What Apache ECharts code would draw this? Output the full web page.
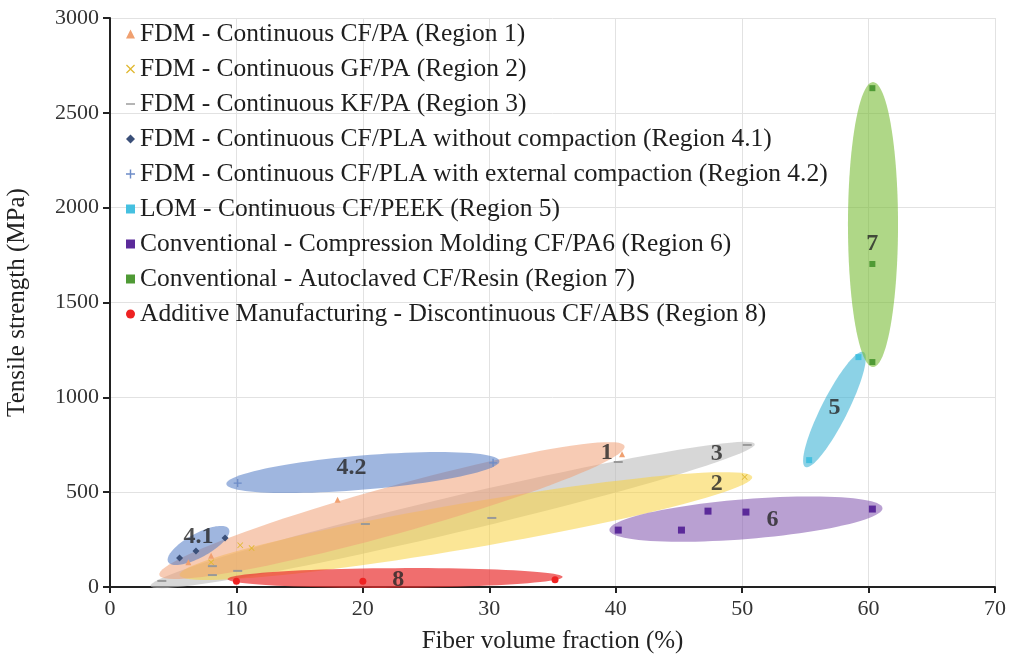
<!DOCTYPE html>
<html><head><meta charset="utf-8">
<script src="https://cdn.jsdelivr.net/npm/echarts@6/dist/echarts.min.js"></script>
<style>html,body{margin:0;padding:0;background:#fff}#c{width:1015px;height:659px}</style>
</head><body><div id="c"></div><script>
// ---- data ----
const xTicks = [0, 10, 20, 30, 40, 50, 60, 70];
const yTicks = [0, 500, 1000, 1500, 2000, 2500, 3000];
const seriesNames = [
  'FDM - Continuous CF/PA (Region 1)',
  'FDM - Continuous GF/PA (Region 2)',
  'FDM - Continuous KF/PA (Region 3)',
  'FDM - Continuous CF/PLA without compaction (Region 4.1)',
  'FDM - Continuous CF/PLA with external compaction (Region 4.2)',
  'LOM - Continuous CF/PEEK (Region 5)',
  'Conventional - Compression Molding CF/PA6 (Region 6)',
  'Conventional - Autoclaved CF/Resin (Region 7)',
  'Additive Manufacturing - Discontinuous CF/ABS (Region 8)'
];
const region1 = [[6.2, 131], [8, 165], [18, 460], [40.5, 700]];
const region2 = [[8, 130], [10.3, 220], [11.2, 205], [50.2, 580]];
const region3 = [[4.1, 32], [8.1, 63], [8.1, 110], [10.1, 85], [20.2, 332], [30.2, 364], [40.2, 659], [50.4, 749]];
const region41 = [[5.5, 153], [6.8, 190], [9.1, 258]];
const region42 = [[10.1, 548], [30.3, 655]];
const region5 = [[55.3, 669], [59.2, 1212]];
const region6 = [[40.2, 300], [45.2, 300], [47.3, 400], [50.3, 395], [60.3, 411]];
const region7 = [[60.3, 2630], [60.3, 1703], [60.3, 1186]];
const region8 = [[10, 30], [20, 30], [35.2, 38]];
// region envelopes: major-axis end points (x1,y1,x2,y2) and half width (MPa)
const envelopeNames = ['3', '2', '1', '4.2', '4.1', '5', '6', '7', '8'];
const envelopes = [
  [3.2, 5, 51.0, 754, 95],
  [5.5, 63, 50.8, 580, 120],
  [3.9, 63, 40.7, 743, 125],
  [9.2, 543, 30.8, 664, 90],
  [4.6, 132, 9.4, 306, 63],
  [55.0, 633, 59.6, 1239, 69],
  [39.5, 300, 61.1, 416, 105],
  [60.35, 2662, 60.35, 1160, 132],
  [9.3, 42, 35.8, 53, 52]
];
const labelNames = ['1', '2', '3', '4.1', '4.2', '5', '6', '7', '8'];
const labelPos = [[39.3, 706], [48, 543], [48, 701], [7.0, 264], [19.1, 627], [57.3, 944], [52.4, 353], [60.3, 1808], [22.8, 37]];

// ---- styles ----
const envColors = {
  '3': 'rgba(188,188,188,0.6)', '2': 'rgba(247,210,63,0.55)', '1': 'rgba(240,160,118,0.55)',
  '4.2': 'rgba(80,122,197,0.55)', '4.1': 'rgba(80,122,197,0.55)', '5': 'rgba(63,180,213,0.6)',
  '6': 'rgba(138,97,180,0.6)', '7': 'rgba(122,188,55,0.6)', '8': 'rgba(234,48,48,0.7)'
};
const xPath = 'path://M0,1 L1,0 L5,4 L9,0 L10,1 L6,5 L10,9 L9,10 L5,6 L1,10 L0,9 L4,5 Z';
const plusPath = 'path://M4.2,0 H5.8 V4.2 H10 V5.8 H5.8 V10 H4.2 V5.8 H0 V4.2 H4.2 Z';
const dashPath = 'path://M0,4.2 H10 V5.8 H0 Z';
const markerDefs = [
  {data: region1, symbol: 'triangle', icon: 'triangle', size: 6, color: '#f0a070'},
  {data: region2, symbol: xPath, icon: xPath, size: 6, color: '#e0b830'},
  {data: region3, symbol: 'rect', icon: dashPath, size: [9, 2], color: '#999999'},
  {data: region41, symbol: 'diamond', icon: 'diamond', size: 7, color: '#3a4f78'},
  {data: region42, symbol: plusPath, icon: plusPath, size: 8, color: '#6d8cc8'},
  {data: region5, symbol: 'rect', icon: 'rect', size: 6, color: '#45c0e0'},
  {data: region6, symbol: 'rect', icon: 'rect', size: 7, color: '#5b2a9a'},
  {data: region7, symbol: 'rect', icon: 'rect', size: 6, color: '#4f9a35'},
  {data: region8, symbol: 'circle', icon: 'circle', size: 7, color: '#ee2222'}
];

function renderEnvelope(params, api) {
  const p1 = api.coord([api.value(0), api.value(1)]);
  const p2 = api.coord([api.value(2), api.value(3)]);
  const b = api.size([0, api.value(4)])[1];
  const cx = (p1[0] + p2[0]) / 2, cy = (p1[1] + p2[1]) / 2;
  const dx = p2[0] - p1[0], dy = p2[1] - p1[1];
  const a = Math.hypot(dx, dy) / 2, ang = Math.atan2(dy, dx);
  const pts = [];
  for (let i = 0; i < 96; i++) {
    const t = i / 96 * 2 * Math.PI;
    const ex = a * Math.cos(t), ey = b * Math.sin(t);
    pts.push([cx + ex * Math.cos(ang) - ey * Math.sin(ang), cy + ex * Math.sin(ang) + ey * Math.cos(ang)]);
  }
  return {type: 'polygon', shape: {points: pts}, style: {fill: envColors[envelopeNames[params.dataIndex]]}};
}

const font = '"Liberation Serif", "Times New Roman", serif';
const series = [{
  type: 'custom', name: 'envelopes', z: 1, silent: true,
  renderItem: renderEnvelope,
  encode: {x: [0, 2], y: [1, 3]},
  data: envelopes
}];
markerDefs.forEach((m, i) => {
  series.push({
    type: 'scatter', name: seriesNames[i], z: 3,
    symbol: m.symbol, symbolSize: m.size,
    itemStyle: {color: m.color, opacity: 1},
    data: m.data
  });
});
series.push({
  type: 'scatter', name: 'labels', z: 5, symbolSize: 0, silent: true,
  data: labelPos.map((p, i) => ({value: p, name: labelNames[i]})),
  label: {
    show: true, position: 'inside', formatter: p => p.name,
    fontFamily: font, fontWeight: 'bold', fontSize: 24, color: '#262626'
  }
});

const chart = echarts.init(document.getElementById('c'), null, {renderer: 'canvas'});
chart.setOption({
  animation: false,
  backgroundColor: '#fff',
  grid: {left: 110, right: 20, top: 18, bottom: 72, containLabel: false, outerBoundsMode: 'none'},
  legend: {
    orient: 'vertical', left: 121, top: 16, itemGap: 9,
    itemWidth: 9, itemHeight: 9,
    data: seriesNames.map((n, i) => ({name: n, icon: markerDefs[i].icon})),
    textStyle: {fontFamily: font, fontSize: 25.5, color: '#1e1e1e', lineHeight: 25}
  },
  xAxis: {
    type: 'value', min: xTicks[0], max: xTicks[xTicks.length - 1], interval: 10,
    name: 'Fiber volume fraction (%)', nameLocation: 'middle', nameGap: 42,
    nameTextStyle: {fontFamily: font, fontSize: 25, color: '#222'},
    axisLine: {show: true, onZero: false, lineStyle: {color: '#222', width: 2}},
    axisTick: {show: true, inside: false, length: 6, lineStyle: {color: '#222', width: 2}},
    axisLabel: {fontFamily: font, fontSize: 22, color: '#333', margin: 11},
    splitLine: {show: true, lineStyle: {color: '#e2e2e2', width: 1}}
  },
  yAxis: {
    type: 'value', min: yTicks[0], max: yTicks[yTicks.length - 1], interval: 500,
    name: 'Tensile strength (MPa)', nameLocation: 'middle', nameGap: 80,
    nameTextStyle: {fontFamily: font, fontSize: 25, color: '#222'},
    axisLine: {show: true, onZero: false, lineStyle: {color: '#222', width: 2}},
    axisTick: {show: true, inside: false, length: 7, lineStyle: {color: '#222', width: 2}},
    axisLabel: {fontFamily: font, fontSize: 22, color: '#333', margin: 11, formatter: v => String(v)},
    splitLine: {show: true, lineStyle: {color: '#e2e2e2', width: 1}}
  },
  series: series
});
</script></body></html>
